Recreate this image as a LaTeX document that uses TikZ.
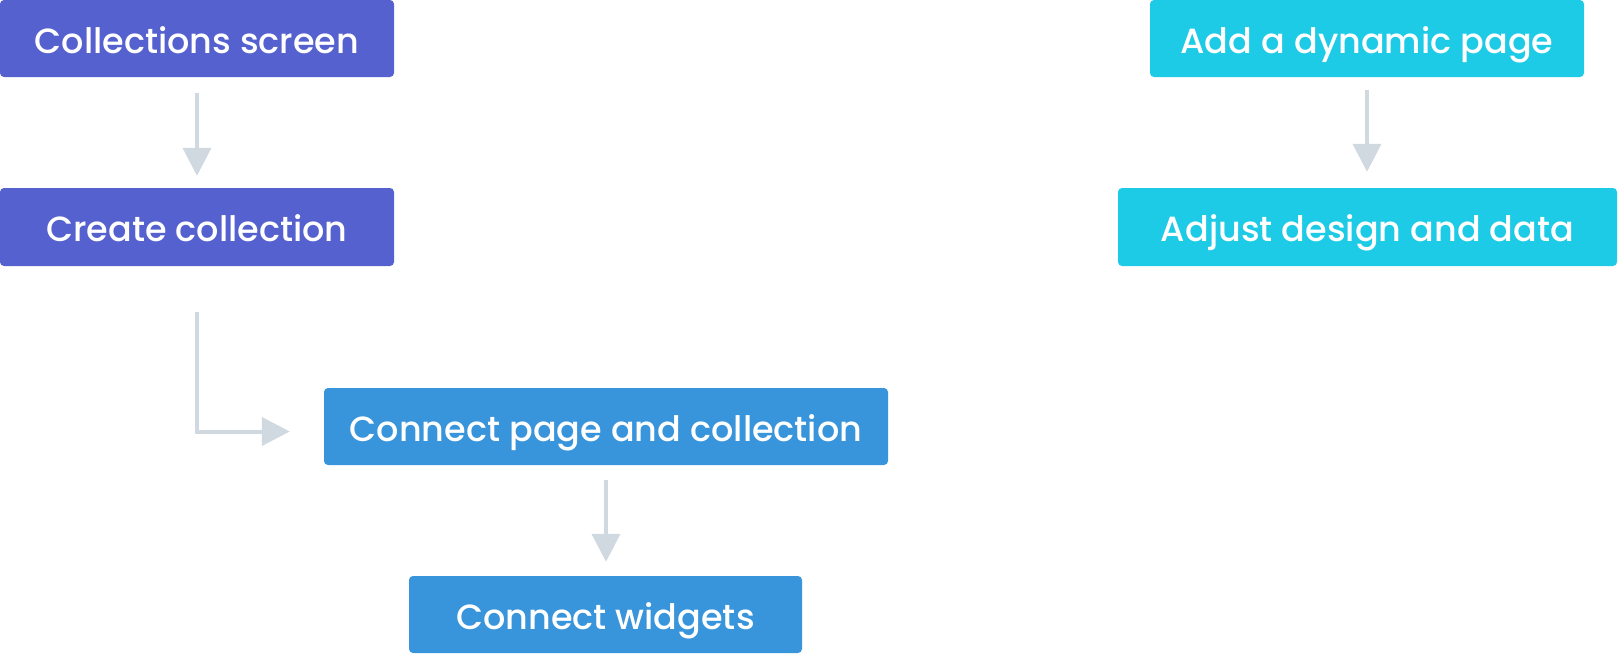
\documentclass[tikz,border=0pt]{standalone}
\usepackage{fontspec}
\setmainfont{Poppins}[UprightFont=* Medium]
\usetikzlibrary{arrows.meta}
\definecolor{cpurple}{HTML}{5561CF}
\definecolor{cblue}{HTML}{3894DB}
\definecolor{ccyan}{HTML}{1ECBE6}
\definecolor{cgray}{HTML}{D0D8E0}
\tikzset{
  box/.style={rounded corners=4pt, text=white, inner sep=0pt, anchor=center,
    text height=29pt, text depth=0pt,
    font=\fontsize{35}{42}\selectfont},
  pbox/.style={box, fill=cpurple},
  bbox/.style={box, fill=cblue},
  cbox/.style={box, fill=ccyan},
  arr/.style={draw=cgray, line width=4pt, -{Triangle[width=28pt,length=28pt]}}
}
\begin{document}
\begin{tikzpicture}[x=1pt,y=-1pt]
\useasboundingbox (0,0) rectangle (1618,654);
\node[pbox, minimum width=394pt, minimum height=77pt] (A) at (197,38.5) {Collections screen};
\node[pbox, minimum width=394pt, minimum height=78pt] (B) at (197,227) {Create collection};
\node[bbox, minimum width=564pt, minimum height=77pt] (C) at (606,426.5) {Connect page and collection};
\node[bbox, minimum width=393pt, minimum height=77pt] (D) at (605.5,614.5) {Connect widgets};
\node[cbox, minimum width=434pt, minimum height=77pt] (E) at (1367,38.5) {Add a dynamic page};
\node[cbox, minimum width=499pt, minimum height=78pt] (F) at (1367.5,227) {Adjust design and data};
\draw[arr, shorten <=16pt, shorten >=12pt] (A.south) -- (A.south |- B.north);
\draw[arr, shorten <=46pt, shorten >=34pt] (B.south) |- ([yshift=-5pt]C.west);
\draw[arr, shorten <=15pt, shorten >=14pt] (C.south) -- (C.south |- D.north);
\draw[arr, shorten <=13pt, shorten >=16pt] (E.south) -- (E.south |- F.north);
\end{tikzpicture}
\end{document}
